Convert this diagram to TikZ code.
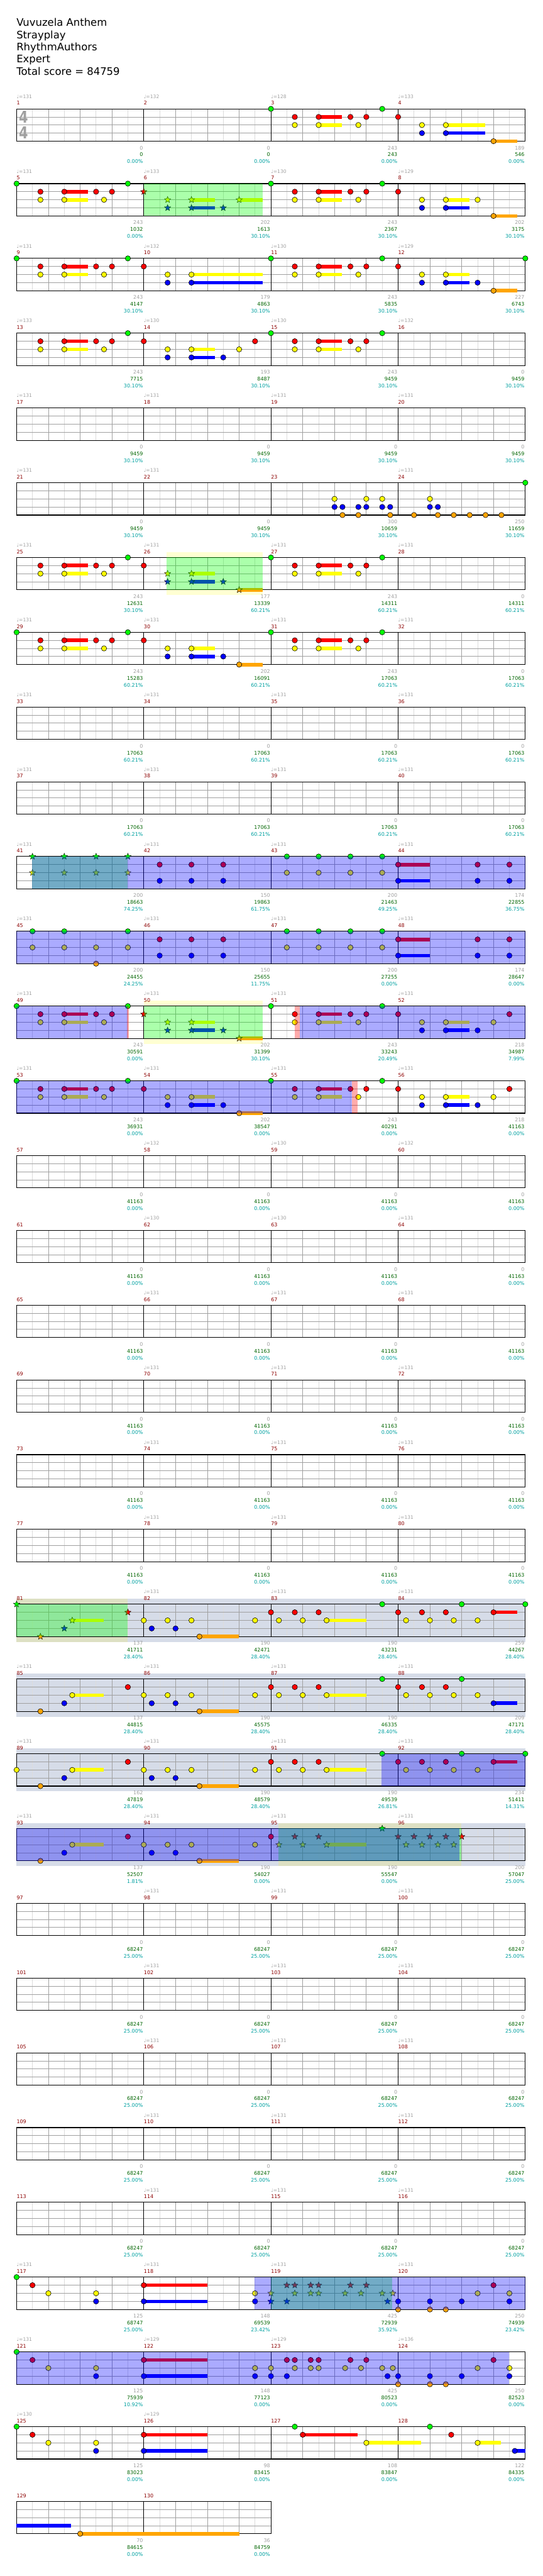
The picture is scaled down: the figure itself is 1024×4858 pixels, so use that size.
\documentclass[tikz,border=0pt]{standalone}
\usepackage{fontspec}
\setmainfont{DejaVu Sans}
\usetikzlibrary{shapes.geometric}
\definecolor{Lane0}{HTML}{00FF00}
\definecolor{Lane1}{HTML}{FF0000}
\definecolor{Lane2}{HTML}{FFFF00}
\definecolor{Lane3}{HTML}{0000FF}
\definecolor{Lane4}{HTML}{FFA500}
\definecolor{GridDark}{HTML}{A0A0A0}
\definecolor{GridLight}{HTML}{DCDCDC}
\definecolor{TextGray}{HTML}{A0A0A0}
\definecolor{TextGreen}{HTML}{006400}
\definecolor{TextTeal}{HTML}{00A0A0}
\definecolor{BarRed}{HTML}{8B0000}
\definecolor{SoloBlue}{HTML}{D6DCE8}
\definecolor{BandYellow}{HTML}{FFFFD2}
\definecolor{SoloYellow}{HTML}{DDE0C3}
\tikzset{
  heading/.style={font=\fontsize{19.5}{23}\selectfont, inner sep=0pt, anchor=base west},
  tempo/.style={font=\fontsize{9}{10}\selectfont, text=TextGray, inner sep=0pt, anchor=base west},
  barnum/.style={font=\fontsize{9.5}{10}\selectfont, text=BarRed, inner sep=0pt, anchor=base west},
  basescore/.style={font=\fontsize{9.5}{10}\selectfont, text=TextGray, inner sep=0pt, anchor=base east},
  totalscore/.style={basescore, text=TextGreen},
  sppct/.style={basescore, text=TextTeal},
  timesig/.style={font=\fontsize{31}{31}\selectfont\bfseries, text=GridDark, inner sep=0pt},
  halfline/.style={draw=GridLight, line width=1pt},
  beatline/.style={draw=GridDark, line width=1pt},
  barline/.style={draw=black, line width=1pt},
  staffframe/.style={draw=black, line width=1.3pt},
  gem/.style={draw=black, line width=.7pt},
  spgem/.style={star, star points=5, star point ratio=2.3, draw=black, line width=.5pt, minimum size=12.5pt, inner sep=0pt},
  spzone/.style={fill=Lane0, fill opacity=.33},
  actzone/.style={fill=Lane3, fill opacity=.33},
  endmark/.style={fill=Lane1, fill opacity=.33}
}
% row r, lane l, beat b -> (31.3+60b, 205.3+141r+15.25l)
\newcommand{\gems}[3]{\foreach \bt in {#3} {\filldraw[gem, fill=Lane#2] ({31.3+60*\bt},{205.3+141*#1+15.25*#2}) circle (5);}}
\newcommand{\spgems}[3]{\foreach \bt in {#3} {\node[spgem, fill=Lane#2] at ({31.3+60*\bt},{205.3+141*#1+15.25*#2}) {};}}
\newcommand{\tail}[4]{\fill[Lane#2] ({31.3+60*#3},{201.95+141*#1+15.25*#2}) rectangle ({31.3+60*#4},{208.65+141*#1+15.25*#2});}
\newcommand{\zone}[4]{\fill[#2] ({31.3+60*#3},{205.3+141*#1}) rectangle ({31.3+60*#4},{266.3+141*#1});}
\newcommand{\band}[4]{\fill[#2] ({31.3+60*#3},{195.3+141*#1}) rectangle ({31.3+60*#4},{276.3+141*#1});}
\def\notempo{-}
\newcommand{\barlabels}[5]{%
  \pgfmathtruncatemacro\mrow{(#1-1)/4}%
  \pgfmathtruncatemacro\mcol{#1-1-4*\mrow}%
  \pgfmathsetmacro\mx{31.3+240*\mcol}%
  \pgfmathsetmacro\my{205.3+141*\mrow}%
  \def\mtempo{#2}%
  \ifx\mtempo\notempo\else\node[tempo] (tp#1) at ({\mx},{\my-20}) {♩=#2};\fi
  \node[barnum] (bar#1) at ({\mx},{\my-7.3}) {#1};
  \node[basescore] (base#1) at ({\mx+238.7},{\my+77}) {#3};
  \node[totalscore] (total#1) at ({\mx+238.7},{\my+90}) {#4};
  \node[sppct] (pct#1) at ({\mx+238.7},{\my+103}) {#5\%};
}

\begin{document}
\begin{tikzpicture}[x=1pt, y=-1pt]
\useasboundingbox (0,0) rectangle (1024,4858);

% heading
\foreach \txt [count=\i] in {Vuvuzela Anthem, Strayplay, RhythmAuthors, Expert, Total score = 84759}
  \node[heading] (title\i) at (31,{49.3+23.1*(\i-1)}) {\txt};

% solo and whammy bands
\foreach \rr in {20,...,23} {\band{\rr}{SoloBlue}{0}{16}}
\band{20}{SoloYellow}{0}{3.5}
\band{23}{SoloYellow}{8.23}{13.99}
\band{6}{BandYellow}{4.72}{7.74}
\band{12}{BandYellow}{4}{7.74}

% staves
\foreach \rr in {0,...,32} {
  \pgfmathsetmacro\ty{205.3+141*\rr}
  \pgfmathsetmacro\by{266.3+141*\rr}
  \ifnum\rr=32 \def\nm{2}\else\def\nm{4}\fi
  \pgfmathsetmacro\rx{31.3+240*\nm}
  \def\bg{white}
  \ifnum\rr>19 \ifnum\rr<24 \def\bg{SoloBlue}\fi\fi
  \fill[\bg] (31.3,\ty) rectangle (\rx,\by);
  \pgfmathtruncatemacro\nh{8*\nm-1}
  \foreach \kk in {1,...,\nh} {\draw[halfline] ({31.3+30*\kk},\ty) -- ({31.3+30*\kk},\by);}
  \foreach \lane in {1,2,3} {\draw[beatline] (31.3,{\ty+15.25*\lane}) -- (\rx,{\ty+15.25*\lane});}
  \pgfmathtruncatemacro\nb{4*\nm-1}
  \foreach \kk in {1,...,\nb} {\draw[beatline] ({31.3+60*\kk},\ty) -- ({31.3+60*\kk},\by);}
  \pgfmathtruncatemacro\nbar{\nm-1}
  \foreach \kk in {1,...,\nbar} {\draw[barline] ({31.3+240*\kk},\ty) -- ({31.3+240*\kk},\by);}
  \draw[staffframe] (31.3,\ty) rectangle (\rx,\by);
}
\node[timesig] (sigtop) at (44.5,220.3) {\scalebox{.8}[1]{4}};
\node[timesig] (sigbot) at (44.5,250.3) {\scalebox{.8}[1]{4}};

% bars 1-4
\tail{0}{1}{9.5}{10.24}\tail{0}{2}{9.5}{10.24}\tail{0}{2}{13.5}{14.74}\tail{0}{3}{13.5}{14.74}\tail{0}{4}{15}{15.74}
\gems{0}{0}{8,11.5}
\gems{0}{1}{8.75,9.5,10.5,11,12}
\gems{0}{2}{8.75,9.5,10.75,12.75,13.5}
\gems{0}{3}{12.75,13.5}
\gems{0}{4}{15}
% bars 5-8
\tail{1}{1}{1.5}{2.24}\tail{1}{2}{1.5}{2.24}\tail{1}{2}{5.5}{6.24}\tail{1}{3}{5.5}{6.24}\tail{1}{2}{7}{7.74}
\tail{1}{1}{9.5}{10.24}\tail{1}{2}{9.5}{10.24}\tail{1}{2}{13.5}{14.24}\tail{1}{3}{13.5}{14.24}\tail{1}{4}{15}{15.74}
\gems{1}{0}{0,3.5,8,11.5}
\gems{1}{1}{0.75,1.5,2.5,3,8.75,9.5,10.5,11,12}
\gems{1}{2}{0.75,1.5,2.75,8.75,9.5,10.75,12.75,13.5,14.5}
\gems{1}{3}{12.75,13.5}
\gems{1}{4}{15}
\spgems{1}{1}{4}
\spgems{1}{2}{4.75,5.5,7}
\spgems{1}{3}{4.75,5.5,6.5}
% bars 9-12
\tail{2}{1}{1.5}{2.24}\tail{2}{2}{1.5}{2.24}\tail{2}{2}{5.5}{7.74}\tail{2}{3}{5.5}{7.74}
\tail{2}{1}{9.5}{10.24}\tail{2}{2}{9.5}{10.24}\tail{2}{2}{13.5}{14.24}\tail{2}{3}{13.5}{14.24}\tail{2}{4}{15}{15.74}
\gems{2}{0}{0,3.5,8,11.5,16}
\gems{2}{1}{0.75,1.5,2.5,3,4,8.75,9.5,10.5,11,12}
\gems{2}{2}{0.75,1.5,2.75,4.75,5.5,8.75,9.5,10.75,12.75,13.5}
\gems{2}{3}{4.75,5.5,12.75,13.5,14.5}
\gems{2}{4}{15}
% bars 13-16
\tail{3}{1}{1.5}{2.24}\tail{3}{2}{1.5}{2.24}\tail{3}{2}{5.5}{6.24}\tail{3}{3}{5.5}{6.24}\tail{3}{1}{9.5}{10.24}\tail{3}{2}{9.5}{10.24}
\gems{3}{0}{3.5,8,11.5}
\gems{3}{1}{0.75,1.5,2.5,3,4,7.5,8.75,9.5,10.5,11}
\gems{3}{2}{0.75,1.5,2.75,4.75,5.5,7,8.75,9.5,10.75}
\gems{3}{3}{4.75,5.5,6.5}
% bars 21-24
\gems{5}{0}{16}
\gems{5}{2}{10,11,11.5,13}
\gems{5}{3}{10,10.25,10.75,11,11.5,11.75,13,13.25}
\gems{5}{4}{10.25,10.75,11.75,12.5,13.25,13.75,14.25,14.75,15.25}
% bars 25-28
\tail{6}{1}{1.5}{2.24}\tail{6}{2}{1.5}{2.24}\tail{6}{2}{5.5}{6.24}\tail{6}{3}{5.5}{6.24}\tail{6}{4}{7}{7.74}\tail{6}{1}{9.5}{10.24}\tail{6}{2}{9.5}{10.24}
\gems{6}{0}{3.5,8,11.5}
\gems{6}{1}{0.75,1.5,2.5,3,4,8.75,9.5,10.5,11}
\gems{6}{2}{0.75,1.5,2.75,8.75,9.5,10.75}
\spgems{6}{2}{4.75,5.5}
\spgems{6}{3}{4.75,5.5,6.5}
\spgems{6}{4}{7}
% bars 29-32
\tail{7}{1}{1.5}{2.24}\tail{7}{2}{1.5}{2.24}\tail{7}{2}{5.5}{6.24}\tail{7}{3}{5.5}{6.24}\tail{7}{4}{7}{7.74}\tail{7}{1}{9.5}{10.24}\tail{7}{2}{9.5}{10.24}
\gems{7}{0}{0,3.5,8,11.5}
\gems{7}{1}{0.75,1.5,2.5,3,4,8.75,9.5,10.5,11}
\gems{7}{2}{0.75,1.5,2.75,4.75,5.5,8.75,9.5,10.75}
\gems{7}{3}{4.75,5.5,6.5}
\gems{7}{4}{7}
% bars 41-44
\tail{10}{1}{12}{13}\tail{10}{3}{12}{13}
\spgems{10}{0}{0.5,1.5,2.5,3.5}
\spgems{10}{2}{0.5,1.5,2.5,3.5}
\gems{10}{0}{8.5,9.5,10.5,11.5}
\gems{10}{1}{4.5,5.5,6.5,12,14.5,15.5}
\gems{10}{2}{8.5,9.5,10.5,11.5}
\gems{10}{3}{4.5,5.5,6.5,12,14.5,15.5}
% bars 45-48
\tail{11}{1}{12}{13}\tail{11}{3}{12}{13}
\gems{11}{0}{0.5,1.5,3.5,8.5,9.5,10.5,11.5}
\gems{11}{1}{4.5,5.5,6.5,12,14.5,15.5}
\gems{11}{2}{0.5,1.5,2.5,3.5,8.5,9.5,10.5,11.5}
\gems{11}{3}{4.5,5.5,6.5,12,14.5,15.5}
\gems{11}{4}{2.5}
% bars 49-52
\tail{12}{1}{1.5}{2.24}\tail{12}{2}{1.5}{2.24}\tail{12}{2}{5.5}{6.24}\tail{12}{3}{5.5}{6.24}\tail{12}{4}{7}{7.74}\tail{12}{1}{9.5}{10.24}\tail{12}{2}{9.5}{10.24}\tail{12}{2}{13.5}{14.24}\tail{12}{3}{13.5}{14.24}
\gems{12}{0}{0,3.5,8,11.5}
\gems{12}{1}{0.75,1.5,2.5,3,8.75,9.5,10.5,11,12,15.5}
\gems{12}{2}{0.75,1.5,2.75,8.75,9.5,10.75,12.75,13.5,15}
\gems{12}{3}{12.75,13.5,14.5}
\spgems{12}{1}{4}
\spgems{12}{2}{4.75,5.5}
\spgems{12}{3}{4.75,5.5,6.5}
\spgems{12}{4}{7}
% bars 53-56
\tail{13}{1}{1.5}{2.24}\tail{13}{2}{1.5}{2.24}\tail{13}{2}{5.5}{6.24}\tail{13}{3}{5.5}{6.24}\tail{13}{4}{7}{7.74}\tail{13}{1}{9.5}{10.24}\tail{13}{2}{9.5}{10.24}\tail{13}{2}{13.5}{14.24}\tail{13}{3}{13.5}{14.24}
\gems{13}{0}{0,3.5,8,11.5}
\gems{13}{1}{0.75,1.5,2.5,3,4,8.75,9.5,10.5,11,12,15.5}
\gems{13}{2}{0.75,1.5,2.75,4.75,5.5,8.75,9.5,10.75,12.75,13.5,15}
\gems{13}{3}{4.75,5.5,6.5,12.75,13.5,14.5}
\gems{13}{4}{7}
% bars 81-84
\tail{20}{2}{1.75}{2.74}\tail{20}{4}{5.75}{6.99}\tail{20}{2}{9.75}{11}\tail{20}{1}{15}{15.74}
\spgems{20}{0}{0}\spgems{20}{4}{0.75}\spgems{20}{3}{1.5}\spgems{20}{2}{1.75}\spgems{20}{1}{3.5}
\gems{20}{0}{11.5,14,16}
\gems{20}{1}{8,8.75,9.5,12,12.75,13.5,15}
\gems{20}{2}{4,4.75,5.5,7.5,8.25,9,9.75,12.25,13,13.75,14.5}
\gems{20}{3}{4.25,5}
\gems{20}{4}{5.75}
% bars 85-88
\tail{21}{2}{1.75}{2.74}\tail{21}{4}{5.75}{6.99}\tail{21}{2}{9.75}{11}\tail{21}{3}{15}{15.74}
\gems{21}{0}{11.5,14}
\gems{21}{1}{3.5,8,8.75,9.5,12,12.75,13.5}
\gems{21}{2}{1.75,4,4.75,5.5,7.5,8.25,9,9.75,12.25,13,13.75,14.5}
\gems{21}{3}{1.5,4.25,5,15}
\gems{21}{4}{0.75,5.75}
% bars 89-92
\tail{22}{2}{1.75}{2.74}\tail{22}{4}{5.75}{6.99}\tail{22}{2}{9.75}{11}\tail{22}{1}{15}{15.74}
\gems{22}{0}{11.5,14,16}
\gems{22}{1}{3.5,8,8.75,9.5,12,12.75,13.5,15}
\gems{22}{2}{0,1.75,4,4.75,5.5,7.5,8.25,9,9.75,12.25,13,13.75,14.5}
\gems{22}{3}{1.5,4.25,5}
\gems{22}{4}{0.75,5.75}
% bars 93-96
\tail{23}{2}{1.75}{2.74}\tail{23}{4}{5.75}{6.99}\tail{23}{2}{9.75}{11}
\gems{23}{1}{3.5,8}
\gems{23}{2}{1.75,4,4.75,5.5,7.5}
\gems{23}{3}{1.5,4.25,5}
\gems{23}{4}{0.75,5.75}
\spgems{23}{0}{11.5}
\spgems{23}{1}{8.75,9.5,12,12.5,13,13.5,14}
\spgems{23}{2}{8.25,9,9.75,12.25,12.75,13.25,13.75}
% bars 117-120
\tail{29}{1}{4}{6}\tail{29}{3}{4}{6}
\gems{29}{0}{0}
\gems{29}{1}{0.5,4,15}
\gems{29}{2}{1,2.5,7.5,14.5,15.5}
\gems{29}{3}{2.5,4,7.5,12,13,14,15.5}
\gems{29}{4}{12,13,13.5}
\spgems{29}{1}{8.5,8.75,9.25,9.5,10.5,11}
\spgems{29}{2}{8,8.75,9.25,9.5,10.333,10.833,11.5,11.833}
\spgems{29}{3}{8,8.5,11.667}
% bars 121-124
\tail{30}{1}{4}{6}\tail{30}{3}{4}{6}
\gems{30}{0}{0}
\gems{30}{1}{0.5,4,8.5,8.75,9.25,9.5,10.5,11,15}
\gems{30}{2}{1,2.5,7.5,8,8.75,9.25,9.5,10.333,10.833,11.5,11.833,14.5,15.5}
\gems{30}{3}{2.5,4,7.5,8,8.5,11.667,12,13,14,15.5}
\gems{30}{4}{12,13,13.5}
% bars 125-128
\tail{31}{1}{4}{6}\tail{31}{3}{4}{6}\tail{31}{1}{9}{10.73}\tail{31}{2}{11}{12.73}\tail{31}{2}{14.5}{15.23}\tail{31}{3}{15.67}{16}
\gems{31}{0}{0,8.75,13}
\gems{31}{1}{0.5,4,9,13.67}
\gems{31}{2}{1,2.5,11,14.5}
\gems{31}{3}{2.5,4,15.67}
% bars 129-130
\tail{32}{3}{0}{1.72}\tail{32}{4}{2}{7}
\gems{32}{4}{2}

% star power phrases, then activations
\zone{1}{spzone}{4}{7.74}
\zone{6}{spzone}{4.72}{7.74}
\zone{10}{spzone}{0.49}{3.5}
\zone{12}{spzone}{4}{7.74}
\zone{20}{spzone}{0}{3.5}
\zone{23}{spzone}{8.23}{13.99}
\zone{29}{spzone}{8}{11.81}
\zone{10}{actzone}{0.48}{16}
\zone{11}{actzone}{0}{16}
\zone{12}{actzone}{0}{3.5}
\zone{12}{actzone}{8.9}{16}
\zone{13}{actzone}{0}{10.55}
\zone{22}{actzone}{11.47}{16}
\zone{23}{actzone}{0}{13.93}
\zone{29}{actzone}{7.48}{16}
\zone{30}{actzone}{0}{15.48}
\zone{12}{endmark}{3.47}{3.53}
\zone{12}{endmark}{8.75}{8.91}
\zone{13}{endmark}{10.55}{10.73}

% bar labels: number, tempo, base, total, sp
\barlabels{1}{131}{0}{0}{0.00}
\barlabels{2}{132}{0}{0}{0.00}
\barlabels{3}{128}{243}{243}{0.00}
\barlabels{4}{133}{189}{546}{0.00}
\barlabels{5}{131}{243}{1032}{0.00}
\barlabels{6}{133}{202}{1613}{30.10}
\barlabels{7}{130}{243}{2367}{30.10}
\barlabels{8}{129}{202}{3175}{30.10}
\barlabels{9}{131}{243}{4147}{30.10}
\barlabels{10}{132}{179}{4863}{30.10}
\barlabels{11}{130}{243}{5835}{30.10}
\barlabels{12}{129}{227}{6743}{30.10}
\barlabels{13}{133}{243}{7715}{30.10}
\barlabels{14}{130}{193}{8487}{30.10}
\barlabels{15}{130}{243}{9459}{30.10}
\barlabels{16}{132}{0}{9459}{30.10}
\foreach \kk in {17,...,22} {\barlabels{\kk}{131}{0}{9459}{30.10}}
\barlabels{23}{-}{300}{10659}{30.10}
\barlabels{24}{131}{250}{11659}{30.10}
\barlabels{25}{131}{243}{12631}{30.10}
\barlabels{26}{131}{177}{13339}{60.21}
\barlabels{27}{131}{243}{14311}{60.21}
\barlabels{28}{131}{0}{14311}{60.21}
\barlabels{29}{131}{243}{15283}{60.21}
\barlabels{30}{131}{202}{16091}{60.21}
\barlabels{31}{131}{243}{17063}{60.21}
\foreach \kk in {32,...,40} {\barlabels{\kk}{131}{0}{17063}{60.21}}
\barlabels{41}{131}{200}{18663}{74.25}
\barlabels{42}{131}{150}{19863}{61.75}
\barlabels{43}{131}{200}{21463}{49.25}
\barlabels{44}{131}{174}{22855}{36.75}
\barlabels{45}{131}{200}{24455}{24.25}
\barlabels{46}{131}{150}{25655}{11.75}
\barlabels{47}{131}{200}{27255}{0.00}
\barlabels{48}{131}{174}{28647}{0.00}
\barlabels{49}{131}{243}{30591}{0.00}
\barlabels{50}{131}{202}{31399}{30.10}
\barlabels{51}{131}{243}{33243}{20.49}
\barlabels{52}{131}{218}{34987}{7.99}
\barlabels{53}{131}{243}{36931}{0.00}
\barlabels{54}{131}{202}{38547}{0.00}
\barlabels{55}{131}{243}{40291}{0.00}
\barlabels{56}{131}{218}{41163}{0.00}
\barlabels{57}{-}{0}{41163}{0.00}
\barlabels{58}{132}{0}{41163}{0.00}
\barlabels{59}{130}{0}{41163}{0.00}
\barlabels{60}{132}{0}{41163}{0.00}
\barlabels{61}{-}{0}{41163}{0.00}
\barlabels{62}{130}{0}{41163}{0.00}
\barlabels{63}{130}{0}{41163}{0.00}
\barlabels{64}{131}{0}{41163}{0.00}
\foreach \kk in {65,69,...,77} {\barlabels{\kk}{-}{0}{41163}{0.00}}
\foreach \kk in {66,67,68,70,71,72,74,75,76,78,79,80} {\barlabels{\kk}{131}{0}{41163}{0.00}}
\barlabels{81}{-}{137}{41711}{28.40}
\barlabels{82}{131}{190}{42471}{28.40}
\barlabels{83}{131}{190}{43231}{28.40}
\barlabels{84}{131}{259}{44267}{28.40}
\barlabels{85}{131}{137}{44815}{28.40}
\barlabels{86}{131}{190}{45575}{28.40}
\barlabels{87}{131}{190}{46335}{28.40}
\barlabels{88}{131}{209}{47171}{28.40}
\barlabels{89}{131}{162}{47819}{28.40}
\barlabels{90}{131}{190}{48579}{28.40}
\barlabels{91}{131}{190}{49539}{26.81}
\barlabels{92}{131}{234}{51411}{14.31}
\barlabels{93}{131}{137}{52507}{1.81}
\barlabels{94}{131}{190}{54027}{0.00}
\barlabels{95}{131}{190}{55547}{0.00}
\barlabels{96}{131}{200}{57047}{25.00}
\foreach \kk in {97,101,...,113} {\barlabels{\kk}{-}{0}{68247}{25.00}}
\foreach \kk in {98,99,100,102,103,104,106,107,108,110,111,112,114,115,116} {\barlabels{\kk}{131}{0}{68247}{25.00}}
\barlabels{117}{131}{125}{68747}{25.00}
\barlabels{118}{131}{148}{69539}{23.42}
\barlabels{119}{131}{425}{72939}{35.92}
\barlabels{120}{131}{250}{74939}{23.42}
\barlabels{121}{131}{125}{75939}{10.92}
\barlabels{122}{129}{148}{77123}{0.00}
\barlabels{123}{129}{425}{80523}{0.00}
\barlabels{124}{136}{250}{82523}{0.00}
\barlabels{125}{130}{125}{83023}{0.00}
\barlabels{126}{129}{98}{83415}{0.00}
\barlabels{127}{-}{108}{83847}{0.00}
\barlabels{128}{-}{122}{84335}{0.00}
\barlabels{129}{-}{70}{84615}{0.00}
\barlabels{130}{-}{36}{84759}{0.00}
\end{tikzpicture}
\end{document}
